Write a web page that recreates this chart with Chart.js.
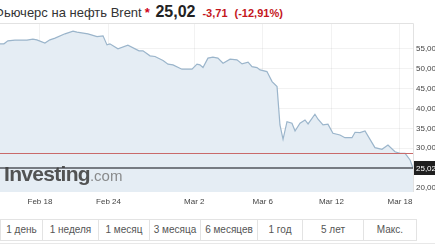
<!DOCTYPE html>
<html>
<head>
<meta charset="utf-8">
<script src="https://cdn.jsdelivr.net/npm/chart.js@4"></script>
<style>
  html, body { margin: 0; padding: 0; background: #fff; overflow: hidden; }
  body { width: 435px; height: 245px; position: relative; font-family: Arial, 'Liberation Sans', sans-serif; }
  #hdr { position: absolute; left: -6px; top: 3px; white-space: nowrap; color: #333; font-size: 13px; }
  #hdr .star { color: #d0021b; font-weight: bold; margin-left: 3px; }
  #hdr .last { font-weight: bold; font-size: 16px; color: #222; margin-left: 2px; }
  #hdr .chg { color: #c4161c; font-weight: bold; font-size: 11px; margin-left: 7px; }
  #wrap { position: absolute; left: 0; top: 0; width: 435px; height: 215px; }
  #logo { position: absolute; left: 4px; top: 162px; white-space: nowrap; }
  #logo .a { font-size: 21px; font-weight: bold; color: rgba(65,65,65,0.9); letter-spacing: -0.7px; }
  #logo .b { font-size: 15px; color: rgba(120,120,120,0.85); }
  #btns { position: absolute; left: 0; top: 219px; display: flex; border: 1px solid #e3e3e3; border-right: none; }
  #btns div { font-size: 10px; color: #555; border-right: 1px solid #e3e3e3; height: 20px; line-height: 20px; text-align: center; }
  #line { position: absolute; left: 0; top: 243px; width: 435px; border-top: 1px solid #e8e8e8; }
</style>
</head>
<body>
<div id="hdr">Фьючерс на нефть Brent<span class="star">*</span> <span class="last">25,02</span><span class="chg">-3,71</span><span class="chg">(-12,91%)</span></div>
<div id="wrap"><canvas id="brentChart"></canvas></div>
<div id="logo"><span class="a">Investing</span><span class="b">.com</span></div>
<div id="btns"></div>
<div id="line"></div>
<script>
// trading day index (0 = Feb 18), weekends skipped
const dayIndex = [
  -2.33, -2.10, -1.87, -1.46, -0.76, -0.41, -0.18, 0.29, 0.58, 0.88,
  1.46, 1.93, 2.16, 2.80, 3.33, 3.68, 3.91, 4.08, 4.55, 5.13,
  5.78, 6.01, 6.42, 6.71, 7.18, 7.47, 7.76, 8.28, 8.87, 9.16,
  9.33, 9.51, 9.80, 10.09, 10.38, 10.68, 11.09, 11.49, 11.79, 12.14,
  12.37, 12.66, 12.84, 13.24, 13.54, 13.83, 14.00, 14.18, 14.41, 14.70,
  14.88, 15.17, 15.46, 15.64, 16.04, 16.22, 16.51, 16.80, 17.09, 17.50,
  17.79, 18.20, 18.38, 18.67, 18.96, 19.54, 19.95, 20.30, 20.71, 21.00,
  21.30, 21.59, 21.76
];
const prices = [
  56.26, 56.26, 57.01, 57.19, 57.19, 57.44, 57.27, 56.44, 57.27, 57.69,
  58.78, 59.46, 59.20, 58.78, 58.10, 58.27, 56.00, 56.26, 55.00, 55.93,
  54.50, 54.50, 53.24, 53.07, 52.05, 51.15, 50.97, 49.89, 49.89, 51.15,
  50.97, 50.29, 52.66, 52.91, 52.66, 51.40, 52.41, 52.23, 51.22, 51.65,
  50.54, 50.29, 49.71, 49.28, 46.77, 45.51, 35.86, 32.26, 36.69, 36.29,
  34.35, 36.29, 37.12, 36.11, 38.56, 37.30, 35.86, 36.04, 33.77, 33.34,
  32.66, 32.66, 34.02, 33.92, 34.35, 30.15, 29.75, 30.82, 29.13, 28.73,
  28.73, 27.05, 25.02
];
const tickDays = [0, 4, 9, 13, 17, 21];
const tickLabels = ['Feb 18', 'Feb 24', 'Mar 2', 'Mar 6', 'Mar 12', 'Mar 18'];
const yTicks = [20, 25, 30, 35, 40, 45, 50, 55];
const lastPrice = 25.02;
const prevClose = 28.73;
const ranges = ['1 день', '1 неделя', '1 месяц', '3 месяца', '6 месяцев', '1 год', '5 лет', 'Макс.'];
const rangeWidths = [41, 55, 50, 50, 56, 44, 60, 52];

const btns = document.getElementById('btns');
ranges.forEach((r, i) => {
    const d = document.createElement('div');
    d.textContent = r;
    d.style.width = rangeWidths[i] + 'px';
    btns.appendChild(d);
});

const fmt = v => v.toFixed(2).replace('.', ',');

// price lines, frame and last price box
const overlay = {
    id: 'overlay',
    afterDatasetsDraw(chart) {
        const { ctx, chartArea: a, scales: { y } } = chart;
        ctx.save();
        ctx.strokeStyle = '#e2e2e2';
        ctx.lineWidth = 1;
        ctx.beginPath();
        ctx.moveTo(a.left, a.top + 0.5);
        ctx.lineTo(a.right + 0.5, a.top + 0.5);
        ctx.lineTo(a.right + 0.5, a.bottom);
        ctx.stroke();

        const yp = Math.round(y.getPixelForValue(prevClose)) + 0.5;
        ctx.strokeStyle = '#c96a6a';
        ctx.beginPath();
        ctx.moveTo(a.left, yp);
        ctx.lineTo(a.right, yp);
        ctx.stroke();

        const yl = Math.round(y.getPixelForValue(lastPrice));
        ctx.strokeStyle = '#50555c';
        ctx.lineWidth = 1.5;
        ctx.beginPath();
        ctx.moveTo(a.left, yl);
        ctx.lineTo(a.right, yl);
        ctx.stroke();

        ctx.fillStyle = '#1f1f1f';
        ctx.fillRect(a.right + 1, yl - 7, 24, 14);
        ctx.fillStyle = '#fff';
        ctx.font = '8px Arial, "Liberation Sans", sans-serif';
        ctx.textBaseline = 'middle';
        ctx.fillText(fmt(lastPrice), a.right + 3, yl + 1);
        ctx.restore();
    }
};

new Chart(document.getElementById('brentChart'), {
    type: 'line',
    data: {
        datasets: [{
            data: dayIndex.map((d, i) => ({ x: d, y: prices[i] })),
            borderColor: '#9bb5cb',
            backgroundColor: '#e5edf4',
            borderWidth: 1.2,
            pointRadius: 0,
            tension: 0,
            fill: 'start'
        }]
    },
    options: {
        responsive: true,
        maintainAspectRatio: false,
        animation: false,
        layout: { padding: { top: 23, left: 0, right: 0, bottom: 0 } },
        plugins: { legend: { display: false }, tooltip: { enabled: false } },
        scales: {
            x: {
                type: 'linear',
                min: -2.33,
                max: 21.76,
                afterBuildTicks: s => { s.ticks = tickDays.map(v => ({ value: v })); },
                afterFit: s => { s.height = 23; },
                border: { display: false },
                grid: { color: 'rgba(0,0,0,0.05)', drawTicks: false },
                ticks: {
                    padding: 5,
                    color: '#444',
                    font: { size: 8, family: 'Arial, "Liberation Sans", sans-serif' },
                    maxRotation: 0,
                    callback: v => tickLabels[tickDays.indexOf(v)]
                }
            },
            y: {
                position: 'right',
                min: 19,
                max: 61.5,
                afterBuildTicks: s => { s.ticks = yTicks.map(v => ({ value: v })); },
                afterFit: s => { s.width = 22; },
                border: { display: false },
                grid: { color: 'rgba(0,0,0,0.05)', drawTicks: false },
                ticks: {
                    padding: 3,
                    color: '#444',
                    font: { size: 8, family: 'Arial, "Liberation Sans", sans-serif' },
                    callback: v => fmt(v)
                }
            }
        }
    },
    plugins: [overlay]
});
</script>
</body>
</html>
